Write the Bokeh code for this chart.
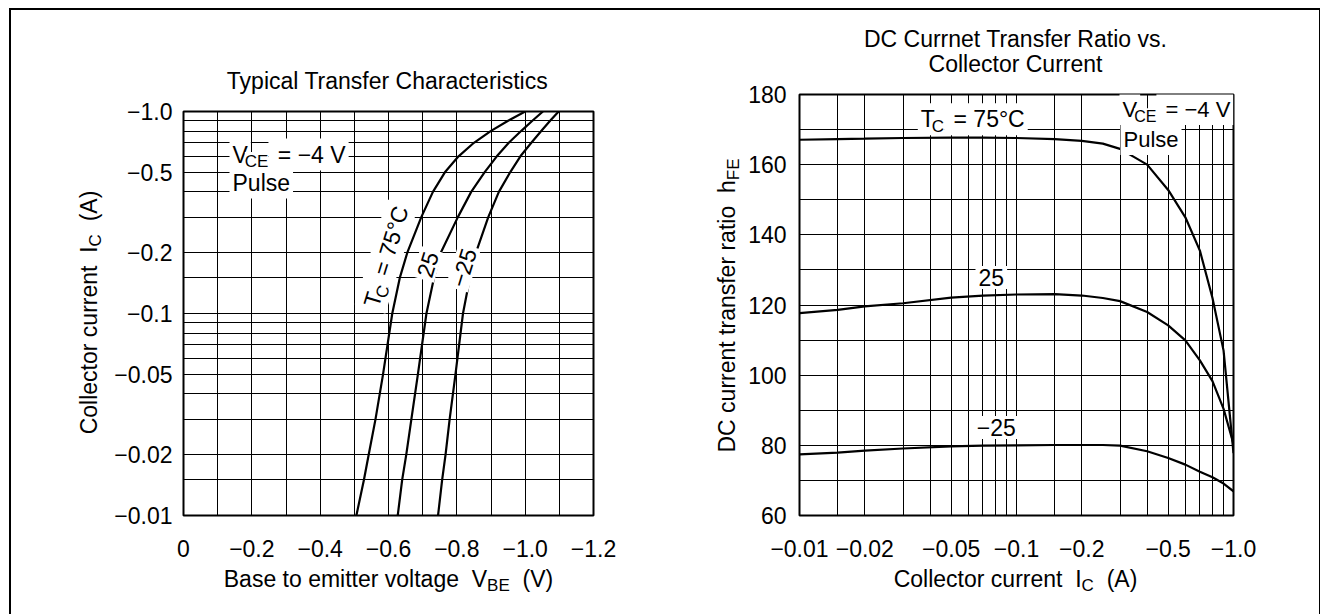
import math
from bokeh.plotting import figure
from bokeh.models import Range1d, FixedTicker, Label, Div
from bokeh.embed import file_html
from bokeh.resources import INLINE

# ---------------- data ----------------
# Left chart: Typical Transfer Characteristics (magnitudes; axis shows negative values)
IC_LEFT = [0.01, 0.015, 0.02, 0.03, 0.05, 0.1, 0.15, 0.2, 0.3, 0.4, 0.5, 0.6, 0.7, 0.8, 0.9, 1.0]
VBE_T75 = [0.506, 0.528, 0.542, 0.562, 0.584, 0.611, 0.633, 0.655, 0.696, 0.730, 0.765, 0.805, 0.850, 0.899, 0.950, 1.000]
VBE_T25 = [0.627, 0.640, 0.652, 0.667, 0.686, 0.711, 0.733, 0.753, 0.803, 0.842, 0.881, 0.917, 0.952, 0.988, 1.021, 1.052]
VBE_TM25 = [0.745, 0.757, 0.767, 0.779, 0.796, 0.818, 0.838, 0.856, 0.892, 0.923, 0.956, 0.986, 1.018, 1.047, 1.073, 1.098]

# Right chart: DC current transfer ratio vs collector current
IC_RIGHT = [0.01, 0.015, 0.02, 0.03, 0.05, 0.07, 0.1, 0.15, 0.2, 0.25, 0.3, 0.4, 0.5, 0.6, 0.7, 0.8, 0.9, 1.0]
HFE_T75 = [167.1, 167.3, 167.4, 167.6, 167.7, 167.7, 167.6, 167.3, 166.8, 166.0, 164.5, 160.0, 152.8, 145.0, 135.5, 122.0, 107.0, 77.8]
HFE_T25 = [117.7, 118.6, 119.6, 120.5, 122.1, 122.7, 123.0, 123.1, 122.7, 122.0, 121.1, 118.0, 114.2, 109.9, 104.2, 98.3, 90.4, 80.4]
HFE_TM25 = [77.4, 77.9, 78.5, 79.1, 79.7, 79.9, 80.0, 80.1, 80.1, 80.1, 79.9, 78.3, 76.4, 74.5, 72.5, 70.9, 69.1, 66.9]

# ticks / grids
VBE_TICKS = [0, 0.2, 0.4, 0.6, 0.8, 1.0, 1.2]
VBE_TICK_LABELS = ["0", "\u22120.2", "\u22120.4", "\u22120.6", "\u22120.8", "\u22121.0", "\u22121.2"]
VBE_GRID = [0, 0.1, 0.2, 0.3, 0.4, 0.5, 0.6, 0.7, 0.8, 0.9, 1.0, 1.1, 1.2]
IC_TICKS = [0.01, 0.02, 0.05, 0.1, 0.2, 0.5, 1.0]
IC_TICK_LABELS = ["\u22120.01", "\u22120.02", "\u22120.05", "\u22120.1", "\u22120.2", "\u22120.5", "\u22121.0"]
IC_GRID = [0.01, 0.015, 0.02, 0.03, 0.04, 0.05, 0.06, 0.07, 0.08, 0.09,
           0.1, 0.15, 0.2, 0.3, 0.4, 0.5, 0.6, 0.7, 0.8, 0.9, 1.0]
HFE_TICKS = [60, 80, 100, 120, 140, 160, 180]
HFE_TICK_LABELS = ["60", "80", "100", "120", "140", "160", "180"]
HFE_GRID = [60, 70, 80, 90, 100, 110, 120, 130, 140, 150, 160, 170, 180]

FONT = "Liberation Sans"
FS = 23
SFS = 17
NB = "\u00a0"

# Arial/Liberation advance widths (1/1000 em) for layout of composed labels
W = {" ": 278, NB: 278, ".": 278, "(": 333, ")": 333, "=": 584, "\u2212": 584, "\u00b0": 400, "-": 333}
for ch, w in zip("ABCDEFGHIJKLMNOPQRSTUVWXYZ",
                 [667, 667, 722, 722, 667, 611, 778, 722, 278, 500, 667, 556, 833, 722, 778, 667, 778, 722, 667, 611, 722, 667, 944, 667, 667, 611]):
    W[ch] = w
for ch, w in zip("abcdefghijklmnopqrstuvwxyz",
                 [556, 556, 500, 556, 556, 278, 556, 556, 222, 222, 500, 222, 833, 556, 556, 556, 556, 333, 500, 278, 556, 500, 722, 500, 500, 500]):
    W[ch] = w
for ch in "0123456789":
    W[ch] = 556

MID = 0.3465  # distance baseline -> middle of (ascent+descent) box, in em


def text_width(s, fs):
    return sum(W.get(c, 556) for c in s) * fs / 1000.0


def put_text(store, anchor_data, anchor_px, runs, px, py, angle_deg=0.0, mode="start",
             fs=FS, sfs=SFS, sub_drop=5, bg=False, places=None):
    """runs: list of (text, is_subscript); (px, py) = baseline start or visual centre (page px)."""
    th = math.radians(angle_deg)
    dx, dy = math.cos(th), -math.sin(th)
    nx, ny = math.sin(th), math.cos(th)
    widths = [text_width(t, sfs if s else fs) for t, s in runs]
    total = sum(widths)
    if mode == "center":
        cap = 0.716 * fs
        sx = px - dx * total / 2 + nx * cap / 2
        sy = py - dy * total / 2 + ny * cap / 2
    else:
        sx, sy = px, py
    cum = 0.0
    for i, ((t, s), w) in enumerate(zip(runs, widths)):
        f = sfs if s else fs
        lead = len(t) - len(t.lstrip(" "))
        if bg:
            core = NB * lead + t.strip(" ")
            off = cum
        else:
            core = t.strip(" ")
            off = cum + text_width(" " * lead, f)
        drop = (sub_drop if s else 0) - MID * f
        bx = sx + dx * off + nx * drop
        by = sy + dy * off + ny * drop
        cum += w
        if not core.strip():
            continue
        lab = Label(x=anchor_data[0], y=anchor_data[1],
                    x_offset=bx - anchor_px[0], y_offset=anchor_px[1] - by,
                    text=core, angle=th, text_align="left", text_baseline="middle",
                    text_font=FONT, text_font_size=f"{f}px", text_color="black")
        if bg:
            lab.background_fill_color = "white"
            lab.padding = 0 if s else 3
        place = places[i] if places is not None else "center"
        store.append((0 if place != "center" else (2 if s else 1), lab, place))


def flush(p, store):
    for _, lab, place in sorted(store, key=lambda e: e[0]):
        p.add_layout(lab, place)


def style(p, xticks, xlabels, xgrid, yticks, ylabels, ygrid, xstand, ystand):
    p.xaxis.ticker = FixedTicker(ticks=xticks)
    p.yaxis.ticker = FixedTicker(ticks=yticks)
    p.xaxis.major_label_overrides = dict(zip(xticks, xlabels))
    p.yaxis.major_label_overrides = dict(zip(yticks, ylabels))
    p.xgrid.ticker = FixedTicker(ticks=xgrid)
    p.ygrid.ticker = FixedTicker(ticks=ygrid)
    for g in (p.xgrid, p.ygrid):
        g.grid_line_color = "black"
        g.grid_line_width = 1
        g.grid_line_alpha = 1.0
    for ax in (p.xaxis, p.yaxis):
        ax.axis_line_color = None
        ax.major_tick_line_color = None
        ax.minor_tick_line_color = None
        ax.major_tick_out = 0
        ax.major_tick_in = 0
        ax.minor_tick_out = 0
        ax.minor_tick_in = 0
        ax.major_label_text_font = FONT
        ax.major_label_text_font_size = f"{FS}px"
        ax.major_label_text_color = "black"
    p.xaxis.major_label_standoff = xstand
    p.yaxis.major_label_standoff = ystand
    p.outline_line_color = "black"
    p.outline_line_width = 2
    p.outline_line_alpha = 1.0
    p.background_fill_color = "white"
    p.border_fill_color = "white"


H = 612

# ---------------- left figure ----------------
p1 = figure(width=660, height=H, x_range=Range1d(0, 1.2), y_range=Range1d(0.01, 1.0),
            y_axis_type="log", output_backend="svg", toolbar_location=None,
            min_border_left=183, min_border_right=67, min_border_top=111, min_border_bottom=H - 515,
            styles={"position": "absolute", "left": "0px", "top": "0px"})
style(p1, VBE_TICKS, VBE_TICK_LABELS, VBE_GRID, IC_TICKS, IC_TICK_LABELS, IC_GRID, 24, 11)
for vv in (VBE_T75, VBE_T25, VBE_TM25):
    p1.line(vv, IC_LEFT, line_color="black", line_width=2.2)

A1d, A1p = (0.0, 0.01), (183.0, 515.0)
s1 = []
put_text(s1, A1d, A1p, [("Typical Transfer Characteristics", False)], 388, 80, mode="center",
         places=["above"])
put_text(s1, A1d, A1p, [("Base to emitter voltage" + NB + NB + "V", False), ("BE", True), ("  (V)", False)],
         388, 578, mode="center", places=["above", "above", "above"])
put_text(s1, A1d, A1p, [("Collector current" + NB + NB + "I", False), ("C", True), ("  (A)", False)],
         88, 312, angle_deg=90, mode="center", places=["left", "left", "left"])
put_text(s1, A1d, A1p, [("V", False), ("CE", True), (" = \u22124 V", False)], 229, 162, bg=True)
put_text(s1, A1d, A1p, [("Pulse", False)], 229, 190, bg=True)
put_text(s1, A1d, A1p, [("T", False), ("C", True), (" = 75\u00b0C", False)], 384.5, 258.7,
         angle_deg=73, mode="center", bg=True)
put_text(s1, A1d, A1p, [("25", False)], 425.8, 266.7, angle_deg=73, mode="center", bg=True)
put_text(s1, A1d, A1p, [("\u221225", False)], 461.7, 270, angle_deg=73, mode="center", bg=True)
flush(p1, s1)

# ---------------- right figure ----------------
p2 = figure(width=660, height=H, x_range=Range1d(0.01, 1.0), y_range=Range1d(60, 180),
            x_axis_type="log", output_backend="svg", toolbar_location=None,
            min_border_left=139, min_border_right=87, min_border_top=94, min_border_bottom=H - 515,
            styles={"position": "absolute", "left": "660px", "top": "0px"})
style(p2, IC_TICKS, IC_TICK_LABELS, IC_GRID, HFE_TICKS, HFE_TICK_LABELS, HFE_GRID, 24, 13)
for hh in (HFE_T75, HFE_T25, HFE_TM25):
    p2.line(IC_RIGHT, hh, line_color="black", line_width=2.2)

A2d, A2p = (0.01, 60.0), (799.0 - 660.0, 515.0)
s2 = []
put_text(s2, A2d, A2p, [("DC Currnet Transfer Ratio vs.", False)], 1015.5 - 660, 38, mode="center",
         places=["above"])
put_text(s2, A2d, A2p, [("Collector Current", False)], 1015 - 660, 63, mode="center", places=["above"])
put_text(s2, A2d, A2p, [("Collector current" + NB + NB + "I", False), ("C", True), ("  (A)", False)],
         1015 - 660, 578, mode="center", places=["above", "below", "below"])
put_text(s2, A2d, A2p, [("DC current transfer ratio" + NB + NB + "h", False), ("FE", True)],
         726 - 660, 305, angle_deg=90, mode="center", places=["left", "left"])
put_text(s2, A2d, A2p, [("T", False), ("C", True), (" = 75\u00b0C", False)], 917.3 - 660, 126.7, bg=True)
put_text(s2, A2d, A2p, [("V", False), ("CE", True), (" = \u22124 V", False)], 1119 - 660, 116.7,
         fs=22, sfs=16, bg=True)
put_text(s2, A2d, A2p, [("Pulse", False)], 1120 - 660, 146.7, fs=22, bg=True)
put_text(s2, A2d, A2p, [("25", False)], 975 - 660, 285, bg=True)
put_text(s2, A2d, A2p, [("\u221225", False)], 973.3 - 660, 435, bg=True)
flush(p2, s2)

# outer frame line of the sheet (top, left, right)
sheet = Div(text="", width=1312, height=606,
            styles={"position": "absolute", "left": "4px", "top": "3px", "box-sizing": "border-box",
                    "border-top": "2px solid black", "border-left": "2px solid black",
                    "border-right": "2px solid black", "background": "transparent",
                    "pointer-events": "none", "z-index": "5"})

open("out.html", "w").write(file_html([p1, p2, sheet], INLINE))
